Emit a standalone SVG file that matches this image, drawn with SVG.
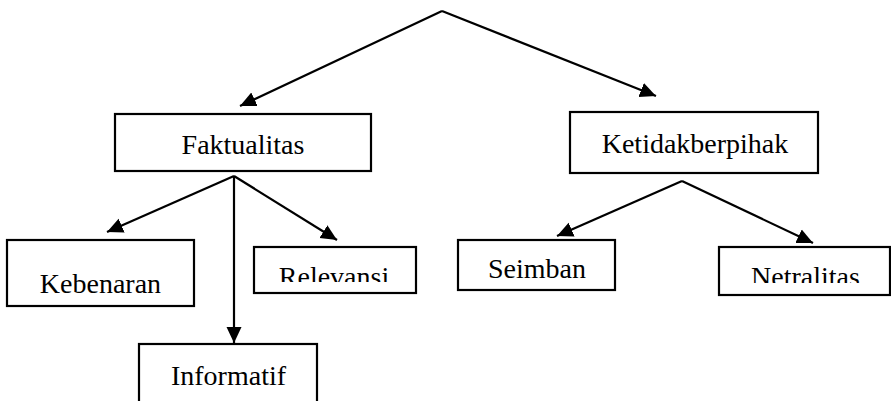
<svg xmlns="http://www.w3.org/2000/svg" width="891" height="401" viewBox="0 0 891 401">
<style>
.box{fill:#fff;stroke:#000;stroke-width:2.2}
.lbl{font-family:"Liberation Serif","Times New Roman",serif;font-size:28px;fill:#000;text-anchor:middle}
.con{fill:none;stroke:#000;stroke-width:2.2;marker-end:url(#ah)}
</style>
<defs>
<marker id="ah" markerUnits="userSpaceOnUse" markerWidth="18" markerHeight="18" viewBox="0 0 18 18" refX="16" refY="9" orient="auto">
<path d="M0,1.5 L16,9 L0,16.5 Z" fill="#000"/>
</marker>
<clipPath id="clipRel"><rect x="254" y="247" width="162" height="35"/></clipPath>
<clipPath id="clipNet"><rect x="719" y="247" width="171" height="36"/></clipPath>
</defs>
<rect width="891" height="401" fill="#fff"/>
<g id="connectors">
<line class="con" x1="442" y1="11" x2="240" y2="106"/>
<line class="con" x1="442" y1="11" x2="656" y2="96"/>
<line class="con" x1="234" y1="176" x2="107" y2="232"/>
<line class="con" x1="234" y1="176" x2="234" y2="343"/>
<line class="con" x1="234" y1="176" x2="337" y2="240"/>
<line class="con" x1="682" y1="181" x2="557" y2="236"/>
<line class="con" x1="682" y1="181" x2="813" y2="243"/>
</g>
<g id="faktualitas">
<rect class="box" x="115" y="114" width="256" height="57"/>
<text class="lbl" x="243" y="154">Faktualitas</text>
</g>
<g id="ketidakberpihak">
<rect class="box" x="570" y="112" width="248" height="61"/>
<text class="lbl" x="695" y="153">Ketidakberpihak</text>
</g>
<g id="kebenaran">
<rect class="box" x="7" y="240" width="187" height="66"/>
<text class="lbl" x="100.5" y="293">Kebenaran</text>
</g>
<g id="relevansi">
<rect class="box" x="254" y="247" width="162" height="46"/>
<text class="lbl" x="334" y="286" clip-path="url(#clipRel)">Relevansi</text>
</g>
<g id="informatif">
<rect class="box" x="139" y="344" width="178" height="70"/>
<text class="lbl" x="228.5" y="385">Informatif</text>
</g>
<g id="seimban">
<rect class="box" x="458" y="240" width="157" height="50"/>
<text class="lbl" x="537" y="278">Seimban</text>
</g>
<g id="netralitas">
<rect class="box" x="719" y="247" width="171" height="48"/>
<text class="lbl" x="805.5" y="286" clip-path="url(#clipNet)">Netralitas</text>
</g>
</svg>
